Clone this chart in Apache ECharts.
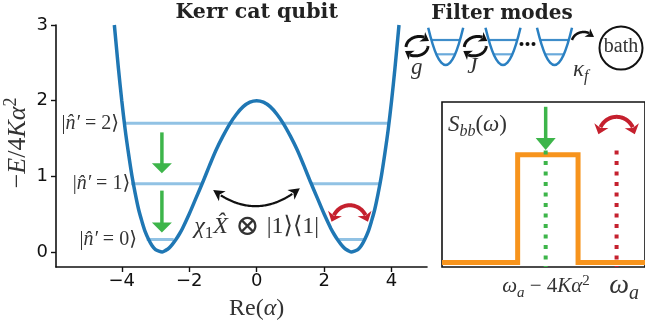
<!DOCTYPE html>
<html><head><meta charset="utf-8">
<script src="https://cdn.jsdelivr.net/npm/echarts@6/dist/echarts.min.js"></script>
<style>html,body{margin:0;padding:0;background:#fff}#c{width:645px;height:330px}</style>
</head><body><div id="c"></div>
<script>
// ---------- data ----------
const xTicks = [-4, -2, 0, 2, 4];
const yTicks = [0, 1, 2, 3];
// double-well potential
const wellX = [-4.22,-4.1,-4.0,-3.9,-3.8,-3.7,-3.6,-3.5,-3.4,-3.3,-3.2,-3.1,-3.0,-2.9,-2.8,-2.7,-2.6,-2.5,-2.4,-2.3,-2.2,-2.0,-1.8,-1.6,-1.4,-1.2,-1.0,-0.8,-0.6,-0.4,-0.2,0,0.2,0.4,0.6,0.8,1.0,1.2,1.4,1.6,1.8,2.0,2.2,2.3,2.4,2.5,2.6,2.7,2.8,2.9,3.0,3.1,3.2,3.3,3.4,3.5,3.6,3.7,3.8,3.9,4.0,4.1,4.22];
const wellY = [3.00,2.43,2.00,1.62,1.30,1.01,0.77,0.56,0.40,0.26,0.16,0.08,0.03,0.01,0.00,0.02,0.05,0.10,0.16,0.23,0.31,0.50,0.71,0.92,1.14,1.35,1.53,1.69,1.82,1.92,1.98,2.00,1.98,1.92,1.82,1.69,1.53,1.35,1.14,0.92,0.71,0.50,0.31,0.23,0.16,0.10,0.05,0.02,0.00,0.01,0.03,0.08,0.16,0.26,0.40,0.56,0.77,1.01,1.30,1.62,2.00,2.43,3.00];
// energy levels: [xStart, xEnd, level]
const levelSegments = [[-3.26,-2.46,0.165],[2.44,3.20,0.165],[-3.72,-1.66,0.90],[1.63,3.64,0.90],[-3.96,3.90,1.70]];
const levelNames = ['0','1','2'];
const levelLabelPos = [[-3.55,0.155],[-3.75,0.90],[-4.08,1.70]];
// spectrum S_bb(omega) inset
const specX = [0, 3.82, 3.82, 6.87, 6.87, 10.25];
const specY = [0.028, 0.028, 0.68, 0.68, 0.028, 0.028];
const greenX = 5.235, redX = 8.815, pumpTop = 0.706;
// filter-mode sketch
const modeCenters = [5.07, 10.8, 15.95];
const modeShapeDX = [-1.75,-1.31,-0.875,-0.44,0,0.44,0.875,1.31,1.75];
const modeShapeY = [6.23,4.60,3.43,2.73,2.50,2.73,3.43,4.60,6.23];
const modeLevels = [[5.0,1.43],[3.57,0.94]];

// ---------- styles ----------
const serif = "'Liberation Serif','DejaVu Serif',serif";
const BLUE = '#1f77b4', LEVEL = '#91c2e4', GREEN = '#3db54a', RED = '#c5202e', ORANGE = '#f7941d';
const fmt = v => v < 0 ? '\u2212' + Math.abs(v) : String(v);

const series = [];
levelSegments.forEach(s => series.push({type:'line', xAxisIndex:0, yAxisIndex:0, data:[[s[0],s[2]],[s[1],s[2]]],
  symbol:'none', silent:true, z:2, lineStyle:{color:LEVEL, width:3}}));
series.push({type:'line', xAxisIndex:0, yAxisIndex:0, data: wellX.map((x,i)=>[x, wellY[i]]),
  symbol:'none', smooth:0.3, silent:true, z:3, lineStyle:{color:BLUE, width:3.5}});
series.push({type:'line', xAxisIndex:1, yAxisIndex:1, data: specX.map((x,i)=>[x, specY[i]]),
  symbol:'none', silent:true, z:3, clip:false, lineStyle:{color:ORANGE, width:5, join:'miter'}});
series.push({type:'line', xAxisIndex:1, yAxisIndex:1, data:[[greenX,pumpTop],[greenX,0]],
  symbol:'none', silent:true, z:4, lineStyle:{color:GREEN, width:4, type:[4,6.5], cap:'butt'}});
series.push({type:'line', xAxisIndex:1, yAxisIndex:1, data:[[redX,pumpTop],[redX,0]],
  symbol:'none', silent:true, z:4, lineStyle:{color:RED, width:4, type:[4,6.5], cap:'butt'}});
modeCenters.forEach(c => {
  series.push({type:'line', xAxisIndex:2, yAxisIndex:2, data: modeShapeDX.map((d,i)=>[c+d, modeShapeY[i]]),
    symbol:'none', smooth:0.4, silent:true, z:3, clip:false, lineStyle:{color:'#2a80c2', width:2.5}});
  modeLevels.forEach((l,k) => series.push({type:'line', xAxisIndex:2, yAxisIndex:2, data:[[c-l[1],l[0]],[c+l[1],l[0]]],
    symbol:'none', silent:true, z:2, clip:false, lineStyle:{color: k===0 ? '#3f8dca' : '#6aaadb', width:2.2}}));
});

const axisLineStyle = {color:'#111', width:1.6};
const option = {
  animation:false, backgroundColor:'#fff',
  grid:[
    {left:56, top:25, width:371, height:242, show:false},
    {left:442, top:102, width:205, height:165, show:true, borderColor:'#111', borderWidth:1.6, backgroundColor:'rgba(0,0,0,0)'},
    {left:395, top:0, width:250, height:90, show:false}
  ],
  xAxis:[
    {type:'value', gridIndex:0, min:-5.95, max:5.05,
     axisLine:{show:true, onZero:false, lineStyle:axisLineStyle},
     axisTick:{show:true, customValues:xTicks, length:5, lineStyle:{color:'#111', width:1.4}},
     axisLabel:{customValues:xTicks, formatter:fmt, fontFamily:'DejaVu Sans', fontSize:18, color:'#111', margin:5},
     splitLine:{show:false}},
    {type:'value', gridIndex:1, min:0, max:10.25, show:false},
    {type:'value', gridIndex:2, min:0, max:25, show:false}
  ],
  yAxis:[
    {type:'value', gridIndex:0, min:-0.2, max:3,
     axisLine:{show:true, onZero:false, lineStyle:axisLineStyle},
     axisTick:{show:true, customValues:yTicks, length:5, lineStyle:{color:'#111', width:1.4}},
     axisLabel:{customValues:yTicks, formatter:fmt, fontFamily:'DejaVu Sans', fontSize:18, color:'#111', margin:8},
     splitLine:{show:false}},
    {type:'value', gridIndex:1, min:0, max:1, show:false},
    {type:'value', gridIndex:2, min:0, max:9, show:false}
  ],
  series
};

const chart = echarts.init(document.getElementById('c'), null, {renderer:'canvas'});
chart.setOption(option);

// ---------- annotations (positioned in data coordinates) ----------
const P = (g, p) => chart.convertToPixel({xAxisIndex:g, yAxisIndex:g}, p);
const G = [];
const unit = (a,b) => { const dx=a[0]-b[0], dy=a[1]-b[1], L=Math.hypot(dx,dy)||1; return [dx/L, dy/L]; };
function head(tip, dir, o) {
  const n = [-dir[1], dir[0]];
  const b = [tip[0]-dir[0]*o.len, tip[1]-dir[1]*o.len];
  const pts = [tip, [b[0]+n[0]*o.hw, b[1]+n[1]*o.hw]];
  if (o.stealth) pts.push([tip[0]-dir[0]*o.len*0.72, tip[1]-dir[1]*o.len*0.72]);
  pts.push([b[0]-n[0]*o.hw, b[1]-n[1]*o.hw]);
  return {type:'polygon', z:100, shape:{points:pts}, style:{fill:o.color, stroke:null}};
}
function straightArrow(g, from, tip, o) {
  const a = P(g, from), t = P(g, tip), d = unit(t, a);
  const end = [t[0]-d[0]*(o.len-1), t[1]-d[1]*(o.len-1)];
  G.push({type:'line', z:100, shape:{x1:a[0], y1:a[1], x2:end[0], y2:end[1]}, style:{stroke:o.color, lineWidth:o.width}});
  G.push(head(t, d, o));
}
function bez(p0,c1,c2,p3,t){ const u=1-t; return [0,1].map(k=>u*u*u*p0[k]+3*u*u*t*c1[k]+3*u*t*t*c2[k]+t*t*t*p3[k]); }
function curvedArrow(g, q0, q1, q2, q3, o) {
  const p0=P(g,q0), c1=P(g,q1), c2=P(g,q2), p3=P(g,q3);
  const N = 80, pts = [];
  for (let i=0;i<=N;i++) pts.push(bez(p0,c1,c2,p3,i/N));
  const dist = (a,b)=>Math.hypot(a[0]-b[0],a[1]-b[1]);
  let a = 0, b = N;
  if (o.start) { while (a<N && dist(pts[a],p0) < o.len*0.75) a++; }
  if (o.end) { while (b>0 && dist(pts[b],p3) < o.len*0.75) b--; }
  G.push({type:'polyline', z:100, shape:{points:pts.slice(a,b+1)}, style:{stroke:o.color, lineWidth:o.width, fill:null}});
  if (o.start) { let j=0; while (j<N && dist(pts[j],p0) < o.len) j++; G.push(head(p0, unit(p0, pts[j]), o)); }
  if (o.end) { let j=N; while (j>0 && dist(pts[j],p3) < o.len) j--; G.push(head(p3, unit(p3, pts[j]), o)); }
}
function richSet(S, color) {
  const base = {fontFamily:serif, fontSize:S, fill:color};
  return {
    r: base,
    big: Object.assign({}, base, {fontSize:Math.round(S*1.2)}),
    i: Object.assign({}, base, {fontStyle:'italic'}),
    s: Object.assign({}, base, {fontStyle:'italic', fontSize:Math.round(S*0.7), padding:[Math.round(S*0.55),0,0,0]}),
    sr: Object.assign({}, base, {fontSize:Math.round(S*0.7), padding:[Math.round(S*0.55),0,0,0]}),
    sup: Object.assign({}, base, {fontSize:Math.round(S*0.7), padding:[0,0,Math.round(S*0.5),0]})
  };
}
function text(g, p, str, S, o) {
  o = o || {};
  const q = P(g, p), color = o.color || '#333';
  G.push({type:'text', z:100, x:q[0], y:q[1], rotation:o.rot||0,
    style:{text:str, rich:richSet(S,color), fontFamily:o.family||serif, fontSize:S, fontWeight:o.weight||'normal',
      fill:color, align:o.align||'center', verticalAlign:'middle'}});
}

// main panel annotations
straightArrow(0, [-2.81,1.58], [-2.81,1.04], {color:GREEN, width:3.5, len:10, hw:10});
straightArrow(0, [-2.81,0.81], [-2.81,0.257], {color:GREEN, width:3.5, len:10, hw:10});
curvedArrow(0, [-1.29,0.817], [-0.43,0.526], [0.43,0.533], [1.28,0.84], {color:'#111', width:2.2, len:11, hw:6, stealth:true, start:true, end:true});
curvedArrow(0, [2.22,0.397], [2.36,0.69], [3.16,0.69], [3.30,0.397], {color:RED, width:4, len:9, hw:7.5, stealth:true, start:true, end:true});
levelNames.forEach((n,k) => text(0, levelLabelPos[k], '{r||}{i|n\u0302\u2032}{r| = ' + n + '\u27e9}', 20, {align:'right'}));
text(0, [0,0.33], '{i|\u03c7}{sr|1}{i|X\u0302}{big| \u2297 }{r||1\u27e9\u27e81|}', 24);
text(0, [0,-0.745], '{r|Re(}{i|\u03b1}{r|)}', 24);
text(0, [-7.07,1.44], '{r|\u2212}{i|E}{r|/4}{i|K\u03b1}{sup|2}', 26, {rot:Math.PI/2});
text(0, [0,3.16], 'Kerr cat qubit', 20.5, {family:'DejaVu Serif', weight:'bold', color:'#222'});

// inset annotations
straightArrow(1, [greenX,0.971], [greenX,0.709], {color:GREEN, width:3.5, len:12, hw:10});
curvedArrow(1, [7.9,0.805], [8.06,0.945], [9.57,0.945], [9.735,0.805], {color:RED, width:4, len:9, hw:7.5, stealth:true, start:true, end:true});
text(1, [0.3,0.861], '{i|S}{s|bb}{r|(}{i|\u03c9}{r|)}', 23, {align:'left'});
text(1, [5.25,-0.121], '{i|\u03c9}{s|a}{r| \u2212 4}{i|K\u03b1}{sup|2}', 21);
text(1, [8.45,-0.115], '{i|\u03c9}{s|a}', 28, {align:'left'});

// filter-mode sketch annotations
[0, 5.83].forEach(sh => {
  curvedArrow(2, [1.1+sh,4.3], [1.2+sh,5.4], [2.9+sh,5.7], [3.4+sh,4.9], {color:'#111', width:3, len:8, hw:5.5, stealth:true, end:true});
  curvedArrow(2, [3.3+sh,4.4], [3.2+sh,3.3], [1.5+sh,3.1], [1.0+sh,3.9], {color:'#111', width:3, len:8, hw:5.5, stealth:true, end:true});
});
curvedArrow(2, [17.7,5.0], [18.0,5.9], [19.3,6.1], [19.9,5.3], {color:'#111', width:2.5, len:8, hw:5, stealth:true, end:true});
[[12.65,4.6],[13.25,4.6],[13.85,4.6]].forEach(d => { const q=P(2,d); G.push({type:'circle', z:100, shape:{cx:q[0], cy:q[1], r:2}, style:{fill:'#111'}}); });
{ const q = P(2,[22.6,4.2]); G.push({type:'circle', z:100, shape:{cx:q[0], cy:q[1], r:21.5}, style:{fill:null, stroke:'#111', lineWidth:2}}); }
text(2, [22.6,4.3], '{r|bath}', 20);
text(2, [2.17,2.2], '{i|g}', 23);
text(2, [7.73,2.3], '{i|J}', 23);
text(2, [17.8,2.0], '{i|\u03ba}{s|f}', 23, {align:'left'});
text(2, [10.7,7.6], 'Filter modes', 20, {family:'DejaVu Serif', weight:'bold', color:'#222'});

chart.setOption({graphic: G});
</script></body></html>
